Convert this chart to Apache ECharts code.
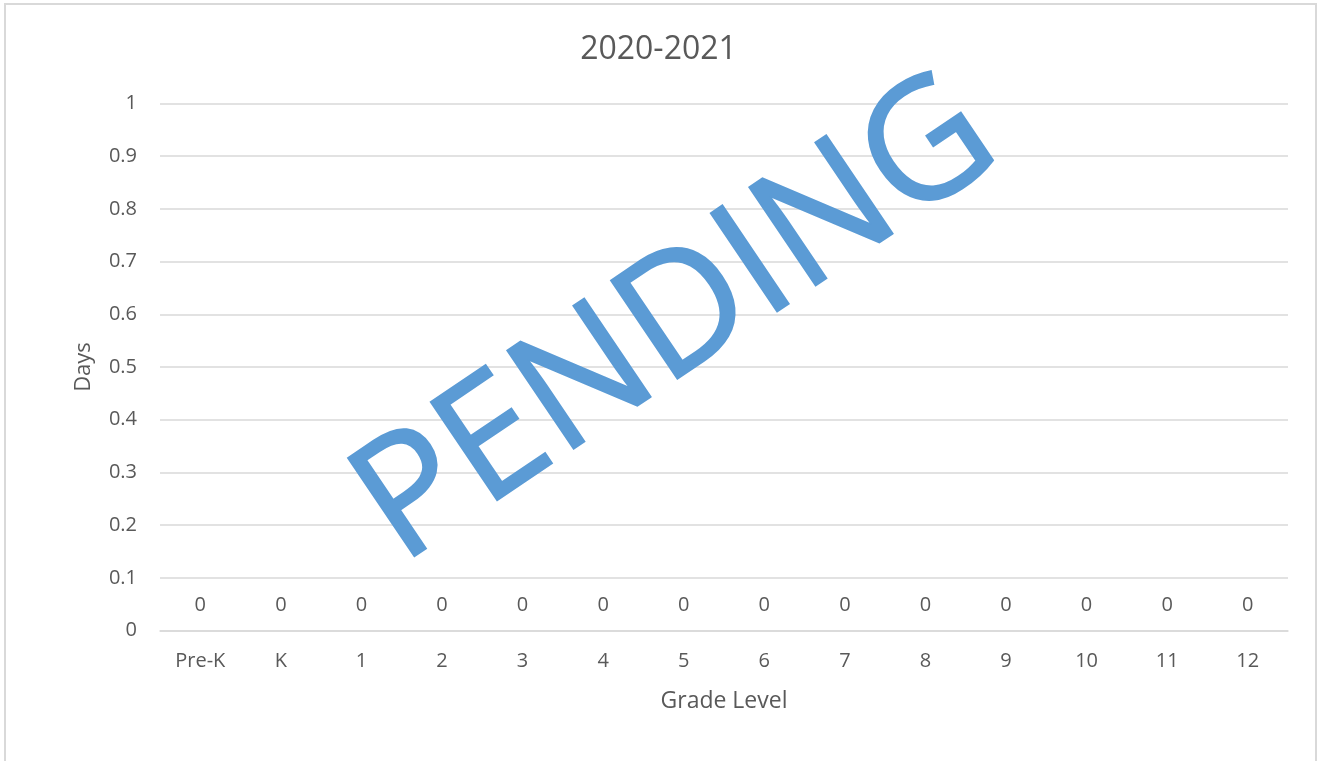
<!DOCTYPE html>
<html>
<head>
<meta charset="utf-8">
<title>2020-2021</title>
<script src="https://cdn.jsdelivr.net/npm/echarts@6/dist/echarts.min.js"></script>
<style>
  html, body {
    margin: 0;
    padding: 0;
    background: #ffffff;
  }
  #chart {
    width: 1317px;
    height: 761px;
  }
</style>
</head>
<body>
<div id="chart"></div>
<script>
// 年级（横轴类目）
const grades = ['Pre-K', 'K', '1', '2', '3', '4', '5', '6', '7', '8', '9', '10', '11', '12']
// 各年级天数
const days = [0, 0, 0, 0, 0, 0, 0, 0, 0, 0, 0, 0, 0, 0]
const chartTitle = '2020-2021'
const watermark = 'PENDING'

const textColor = '#595959'
const lineColor = '#d9d9d9'
const fontFamily = '"Open Sans", "Noto Sans", sans-serif'

const chart = echarts.init(document.getElementById('chart'))
const option = {
  backgroundColor: '#ffffff',
  animation: false,
  title: {
    text: chartTitle,
    left: 'center',
    top: 29,
    textStyle: {
      color: textColor,
      fontFamily: fontFamily,
      fontSize: 32,
      fontWeight: 'normal'
    }
  },
  grid: {
    left: 160,
    right: 29,
    top: 103.5,
    bottom: 130.5,
    containLabel: false
  },
  xAxis: {
    type: 'category',
    data: grades,
    name: 'Grade Level',
    nameLocation: 'middle',
    nameGap: 59,
    nameTextStyle: {
      color: textColor,
      fontFamily: fontFamily,
      fontSize: 23
    },
    axisLine: { lineStyle: { color: lineColor, width: 1.5 } },
    axisTick: { show: false },
    axisLabel: {
      color: textColor,
      fontFamily: fontFamily,
      fontSize: 20,
      margin: 21,
      interval: 0
    }
  },
  yAxis: {
    type: 'value',
    min: 0,
    max: 1,
    interval: 0.1,
    name: 'Days',
    nameLocation: 'middle',
    nameGap: 65,
    nameTextStyle: {
      color: textColor,
      fontFamily: fontFamily,
      fontSize: 22
    },
    axisLine: { show: false },
    axisTick: { show: false },
    splitLine: { lineStyle: { color: lineColor, width: 1.5 } },
    axisLabel: {
      color: textColor,
      fontFamily: fontFamily,
      fontSize: 20,
      margin: 23,
      formatter: (v) => String(Math.round(v * 10) / 10)
    }
  },
  series: [
    {
      name: 'Days',
      type: 'bar',
      data: days,
      itemStyle: { color: '#5B9BD5' },
      label: {
        show: true,
        position: 'top',
        distance: 15,
        color: textColor,
        fontFamily: fontFamily,
        fontSize: 20
      }
    }
  ],
  graphic: [
    // 外框
    {
      type: 'rect',
      silent: true,
      z: -1,
      shape: { x: 5, y: 4, width: 1311, height: 800 },
      style: { fill: 'none', stroke: lineColor, lineWidth: 2 }
    },
    // 水印
    {
      type: 'text',
      silent: true,
      z: 100,
      x: 677,
      y: 322,
      rotation: 34 * Math.PI / 180,
      style: {
        text: watermark,
        fill: '#5B9BD5',
        stroke: '#5B9BD5',
        lineWidth: 2,
        fontFamily: fontFamily,
        fontSize: 166,
        textAlign: 'center',
        textVerticalAlign: 'middle',
        shadowBlur: 5,
        shadowColor: 'rgba(0, 0, 0, 0.4)',
        shadowOffsetX: 3,
        shadowOffsetY: 3
      }
    }
  ]
}
chart.setOption(option)
</script>
</body>
</html>
